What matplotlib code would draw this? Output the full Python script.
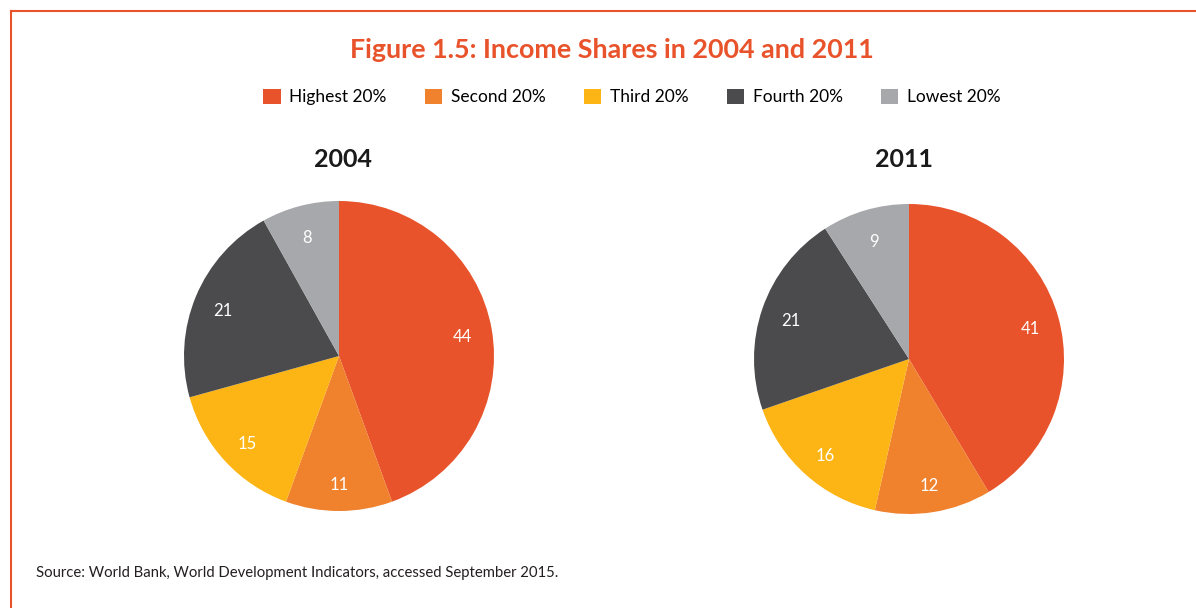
import matplotlib
matplotlib.use("Agg")
import matplotlib.pyplot as plt
from matplotlib.patches import Patch
from matplotlib.lines import Line2D

categories = ["Highest 20%", "Second 20%", "Third 20%", "Fourth 20%", "Lowest 20%"]
shares_2004 = [44, 11, 15, 21, 8]
shares_2011 = [41, 12, 16, 21, 9]
years = ["2004", "2011"]
colors = ["#E8532B", "#F0812D", "#FDB515", "#4B4B4D", "#A7A8AB"]

plt.rcParams['font.family'] = ['Lato', 'DejaVu Sans']

W, H = 1196, 608
fig = plt.figure(figsize=(W / 100, H / 100), dpi=100)

# border (top + left)
fig.add_artist(Line2D([11 / W, 1], [1 - 11 / H, 1 - 11 / H], color="#E8532B", lw=1.5, transform=fig.transFigure))
fig.add_artist(Line2D([11 / W, 11 / W], [0, 1 - 11 / H], color="#E8532B", lw=1.5, transform=fig.transFigure))

fig.text(612 / W, 1 - 50 / H, "Figure 1.5: Income Shares in 2004 and 2011", ha="center", va="center",
         fontsize=19.4, fontweight="bold", color="#E8532B")

handles = [Patch(facecolor=c, edgecolor="none") for c in colors]
fig.legend(handles, categories, loc="center", bbox_to_anchor=(632 / W, 1 - 97 / H), ncol=5, frameon=False,
           fontsize=12.5, handlelength=1.0, handleheight=1.0, handletextpad=0.5, columnspacing=2.2)

R = 155
for data, year, cx, cy, tx in [(shares_2004, years[0], 339, 356, 343), (shares_2011, years[1], 909, 359, 904)]:
    ax = fig.add_axes([(cx - R) / W, (H - cy - R) / H, 2 * R / W, 2 * R / H])
    wedges, texts = ax.pie(data, colors=colors, startangle=90, counterclock=False,
                           labels=[str(v) for v in data], labeldistance=0.81,
                           textprops=dict(color="white", fontsize=12))
    for t in texts:
        t.set_ha("center")
        t.set_va("center")
        x, y = t.get_position()
        t.set_position((x, y - 0.02))
    ax.set_xlim(-1, 1)
    ax.set_ylim(-1, 1)
    ax.set_aspect("equal")
    fig.text(tx / W, 1 - 160 / H, year, ha="center", va="center", fontsize=18, fontweight="bold", color="#1a1a1a")

fig.text(36 / W, 1 - 573 / H, "Source: World Bank, World Development Indicators, accessed September 2015.",
         ha="left", va="center", fontsize=10.7, color="#231F20")

fig.savefig("out.png", dpi=100, facecolor="white")
